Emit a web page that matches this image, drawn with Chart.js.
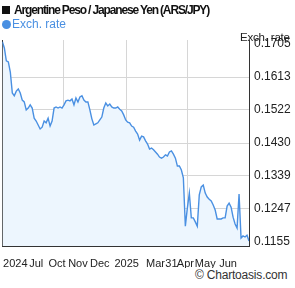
<!DOCTYPE html>
<html>
<head>
<meta charset="utf-8">
<script src="https://cdn.jsdelivr.net/npm/chart.js@4.4.1/dist/chart.umd.min.js"></script>
<style>
  body { margin: 0; background: #fff; font-family: "Liberation Sans", Arial, sans-serif; }
  #wrap { position: relative; width: 295px; height: 288px; }
  #chartBox { position: absolute; left: 0; top: 0; width: 295px; height: 268px; }
  .title { position: absolute; left: 2px; top: 3px; font-size: 12px; font-weight: bold; color: #111; white-space: nowrap; letter-spacing: -1.15px; }
  .title .sq { display: inline-block; width: 8px; height: 8px; background: #111; margin-right: 4px; vertical-align: 0px; }
  .legend { position: absolute; left: 2px; top: 17px; font-size: 12px; color: #4a90e2; white-space: nowrap; }
  .legend .dot { display: inline-block; width: 9px; height: 9px; border-radius: 50%; background: #4a90e2; margin-right: 1px; vertical-align: -1px; }
  .ylabel { position: absolute; left: 240px; top: 31px; font-size: 11.5px; color: #222; white-space: nowrap; letter-spacing: -0.2px; }
  .footer { position: absolute; left: 195px; top: 268px; font-size: 12px; color: #333; white-space: nowrap; letter-spacing: -0.2px; }
</style>
</head>
<body>
<div id="wrap">
  <div id="chartBox"><canvas id="rateChart" width="295" height="268"></canvas></div>
  <div class="title"><span class="sq"></span>Argentine Peso / Japanese Yen (ARS/JPY)</div>
  <div class="legend"><span class="dot"></span>Exch. rate</div>
  <div class="ylabel">Exch. rate</div>
  <div class="footer">&copy; Chartoasis.com</div>
</div>
<script>
// ARS/JPY, Jun 2024 - Jun 2025
const rates = [
  0.1711, 0.1694, 0.1658, 0.1655, 0.1627, 0.1569, 0.1561, 0.1574, 0.1580, 0.1569,
  0.1549, 0.1544, 0.1522, 0.1527, 0.1536, 0.1527, 0.1499, 0.1491, 0.1480, 0.1469,
  0.1474, 0.1491, 0.1486, 0.1499, 0.1477, 0.1491, 0.1527, 0.1530, 0.1527, 0.1530,
  0.1527, 0.1536, 0.1547, 0.1549, 0.1547, 0.1552, 0.1536, 0.1555, 0.1544, 0.1558,
  0.1561, 0.1549, 0.1544, 0.1544, 0.1522, 0.1497, 0.1480, 0.1483, 0.1486, 0.1494,
  0.1502, 0.1527, 0.1541, 0.1533, 0.1538, 0.1530, 0.1527, 0.1527, 0.1530, 0.1524,
  0.1519, 0.1508, 0.1494, 0.1488, 0.1486, 0.1477, 0.1474, 0.1463, 0.1455, 0.1438,
  0.1449, 0.1447, 0.1436, 0.1427, 0.1413, 0.1416, 0.1411, 0.1405, 0.1399, 0.1391,
  0.1388, 0.1391, 0.1397, 0.1394, 0.1405, 0.1408, 0.1399, 0.1388, 0.1366, 0.1366,
  0.1355, 0.1333, 0.1199, 0.1249, 0.1291, 0.1222, 0.1222, 0.1211, 0.1199, 0.1286,
  0.1308, 0.1313, 0.1291, 0.1280, 0.1274, 0.1269, 0.1258, 0.1244, 0.1219, 0.1219,
  0.1219, 0.1222, 0.1222, 0.1255, 0.1263, 0.1252, 0.1224, 0.1205, 0.1194, 0.1288,
  0.1166, 0.1172, 0.1169, 0.1174, 0.1158
];

const xLabels = ['2024', 'Jul', 'Oct', 'Nov', 'Dec', '2025', 'Mar', '31', 'Apr', 'May', 'Jun'];
const xLabelPos = [6.5, 17, 27.5, 38, 49, 62.5, 77, 85, 92, 102, 113.5];
const xGridPos = [30.5, 62, 93];
const yTicks = [0.1155, 0.1247, 0.1339, 0.1430, 0.1522, 0.1613, 0.1705];
const yMin = 0.1144, yMax = 0.1716;

const gridColor = '#d6d6d6';
const points = rates.map((v, i) => ({ x: i, y: v }));
const tickFont = { family: '"Liberation Sans", Arial, sans-serif', size: 12 };

// vertical grid lines at quarter marks, placed through the x scale
const quarterGrid = {
  id: 'quarterGrid',
  beforeDatasetsDraw(chart) {
    const { ctx, chartArea, scales } = chart;
    ctx.save();
    ctx.strokeStyle = gridColor;
    ctx.lineWidth = 1;
    xGridPos.forEach(v => {
      const px = Math.round(scales.x.getPixelForValue(v)) + 0.5;
      ctx.beginPath();
      ctx.moveTo(px, chartArea.top);
      ctx.lineTo(px, chartArea.bottom);
      ctx.stroke();
    });
    ctx.restore();
  }
};

new Chart(document.getElementById('rateChart').getContext('2d'), {
  type: 'line',
  data: {
    datasets: [{
      label: 'Exch. rate',
      data: points,
      borderColor: '#4a90e2',
      backgroundColor: '#edf6fe',
      borderWidth: 1.4,
      fill: 'start',
      tension: 0,
      pointRadius: 0
    }]
  },
  plugins: [quarterGrid],
  options: {
    responsive: false,
    animation: false,
    layout: { padding: { top: 40, left: 1, right: 0, bottom: 0 } },
    plugins: {
      legend: { display: false },
      tooltip: { enabled: false }
    },
    scales: {
      x: {
        type: 'linear',
        min: 0,
        max: rates.length - 1,
        position: 'bottom',
        afterBuildTicks: s => { s.ticks = xLabelPos.map(v => ({ value: v })); },
        afterFit: s => { s.height = 22; },
        grid: { display: false },
        border: { display: true, color: '#333', width: 1 },
        ticks: {
          autoSkip: false,
          maxRotation: 0,
          padding: 3,
          color: '#222',
          font: { family: tickFont.family, size: 11 },
          callback: (v, i) => xLabels[i]
        }
      },
      y: {
        position: 'right',
        min: yMin,
        max: yMax,
        afterBuildTicks: s => { s.ticks = yTicks.map(v => ({ value: v })); },
        afterFit: s => { s.width = 46; },
        grid: {
          drawTicks: false,
          color: c => (c.index === 0 || c.index === yTicks.length - 1) ? 'rgba(0,0,0,0)' : gridColor
        },
        border: { display: true, color: '#333', width: 1 },
        ticks: {
          padding: 5,
          color: '#222',
          font: tickFont,
          callback: v => v.toFixed(4)
        }
      },
      yl: {
        position: 'left',
        min: yMin,
        max: yMax,
        afterFit: s => { s.width = 0; },
        grid: { display: false },
        border: { display: true, color: '#333', width: 1 },
        ticks: { display: false }
      }
    }
  }
});
</script>
</body>
</html>
